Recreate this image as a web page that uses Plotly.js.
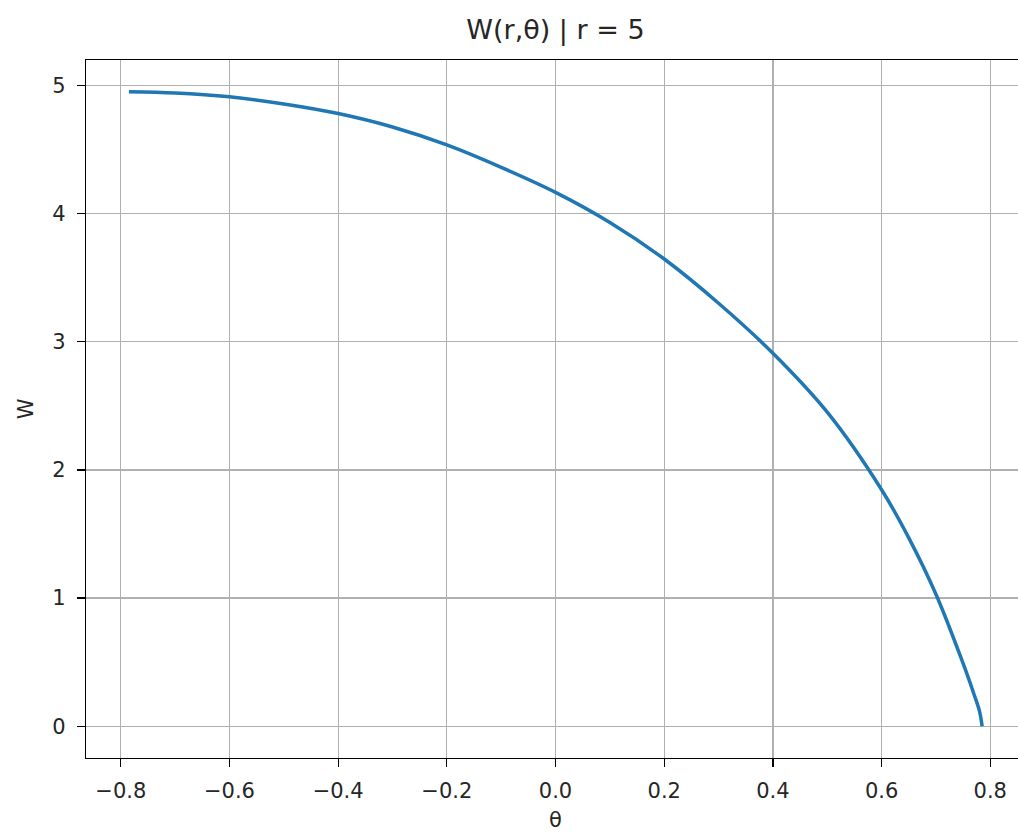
<!DOCTYPE html>
<html>
<head>
<meta charset="utf-8">
<script src="https://cdn.plot.ly/plotly-3.0.1.min.js"></script>
<style>html,body{margin:0;padding:0;background:#fff;}#chart{width:1018px;height:834px;}</style>
</head>
<body>
<div id="chart"></div>
<script>
const theta = [-0.785, -0.7, -0.6, -0.5, -0.4, -0.3, -0.2, -0.1, 0.0, 0.1, 0.2, 0.3, 0.4, 0.5, 0.6, 0.65, 0.7, 0.75, 0.77, 0.78, 0.785];
const W     = [4.95, 4.94, 4.91, 4.855, 4.78, 4.675, 4.535, 4.36, 4.165, 3.93, 3.645, 3.30, 2.91, 2.45, 1.845, 1.47, 1.03, 0.49, 0.25, 0.12, 0.0];
const xTicks = [-0.8, -0.6, -0.4, -0.2, 0.0, 0.2, 0.4, 0.6, 0.8];
const xTickText = ['\u22120.8', '\u22120.6', '\u22120.4', '\u22120.2', '0.0', '0.2', '0.4', '0.6', '0.8'];
const yTicks = [0, 1, 2, 3, 4, 5];
const titleText = 'W(r,\u03b8) | r = 5';
const xLabel = '\u03b8';
const yLabel = 'W';

const font = 'DejaVu Sans, sans-serif';
const trace = {
  x: theta, y: W, type: 'scatter', mode: 'lines',
  line: {color: '#1f77b4', width: 3.5, shape: 'spline', smoothing: 1},
  hoverinfo: 'skip'
};
const layout = {
  width: 1018, height: 834,
  margin: {l: 86, r: 0, t: 60, b: 76, pad: 0},
  paper_bgcolor: '#fff', plot_bgcolor: '#fff',
  showlegend: false,
  font: {family: font, color: '#262626', size: 22},
  title: {text: titleText, font: {family: font, size: 27, color: '#262626'},
          xref: 'paper', x: 0.5037, xanchor: 'center', yref: 'container', y: 0.964, yanchor: 'middle'},
  xaxis: {range: [-0.864, 0.851], tickvals: xTicks, ticktext: xTickText,
          showgrid: true, gridcolor: '#b0b0b0', gridwidth: 1.3,
          showline: true, linecolor: '#000', linewidth: 1.3, mirror: true,
          ticks: 'outside', ticklen: 8, tickwidth: 1.3, tickcolor: '#000',
          ticklabelstandoff: 5, zeroline: false,
          tickfont: {family: font, size: 21, color: '#262626'}},
  yaxis: {range: [-0.2475, 5.1975], tickvals: yTicks,
          showgrid: true, gridcolor: '#b0b0b0', gridwidth: 1.3,
          showline: true, linecolor: '#000', linewidth: 1.3, mirror: false,
          ticks: 'outside', ticklen: 8, tickwidth: 1.3, tickcolor: '#000',
          ticklabelstandoff: 7, zeroline: false,
          tickfont: {family: font, size: 21, color: '#262626'}},
  annotations: [
    {text: xLabel, xref: 'paper', yref: 'paper', x: 0.5037, y: -0.0885, xanchor: 'center', yanchor: 'middle',
     showarrow: false, font: {family: font, size: 21, color: '#262626'}},
    {text: yLabel, xref: 'paper', yref: 'paper', x: -0.064, y: 0.5, xanchor: 'center', yanchor: 'middle',
     textangle: -90, showarrow: false, font: {family: font, size: 21, color: '#262626'}}
  ]
};
Plotly.newPlot('chart', [trace], layout, {staticPlot: true, displayModeBar: false});
</script>
</body>
</html>
